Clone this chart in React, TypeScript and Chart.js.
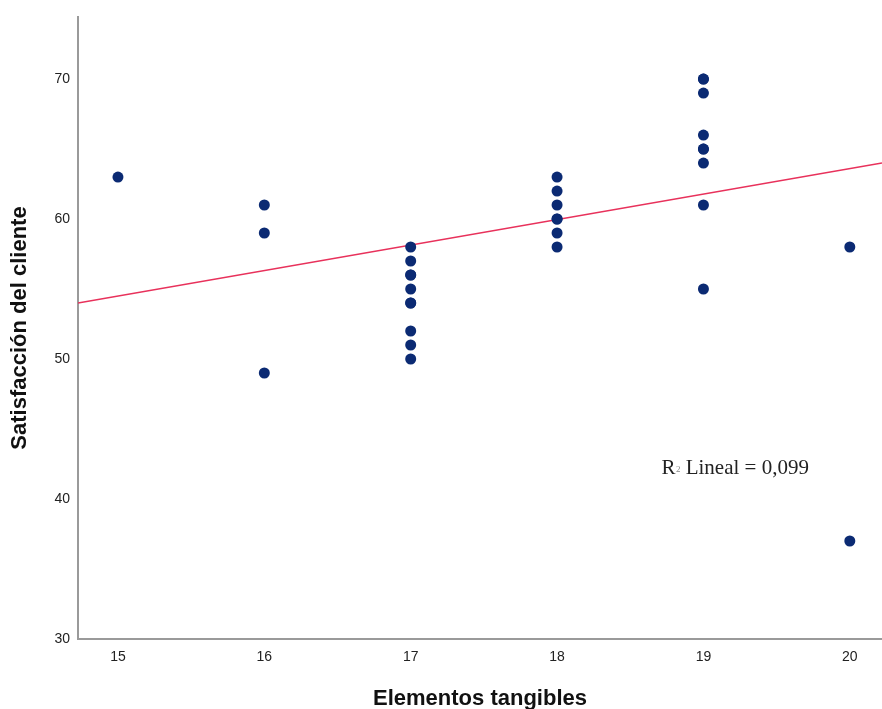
import React, { useEffect, useRef } from "react";
import { Chart, registerables } from "chart.js";

Chart.register(...registerables);

// Data
const tangibles = [15, 16, 16, 16, 17, 17, 17, 17, 17, 17, 17, 17, 17, 17, 18, 18, 18, 18, 18, 18, 18, 19, 19, 19, 19, 19, 19, 19, 19, 19, 20, 20];
const satisfaction = [63, 61, 59, 49, 58, 57, 56, 56, 55, 54, 54, 52, 51, 50, 63, 62, 61, 60, 60, 59, 58, 70, 70, 69, 66, 65, 65, 64, 61, 55, 58, 37];

const xTicks = [15, 16, 17, 18, 19, 20];
const yTicks = [30, 40, 50, 60, 70];
const xMin = 14.727;
const xMax = 20.22;
const yMin = 30;
const yMax = 74.43;

// Fit line (R² Lineal = 0,099)
const fitSlope = 1.82;
const fitIntercept = 27.2;
const r2Label = " Lineal = 0,099";
const r2Pos = { x: 18.713, y: 42.2 };

const xTitle = "Elementos tangibles";
const yTitle = "Satisfacción del cliente";

const r2Plugin = {
  id: "r2label",
  afterDatasetsDraw(chart: any) {
    const ctx = chart.ctx;
    const xs = chart.scales.x;
    const ys = chart.scales.y;
    const px = xs.getPixelForValue(r2Pos.x);
    const py = ys.getPixelForValue(r2Pos.y);
    ctx.save();
    ctx.textBaseline = "middle";
    ctx.textAlign = "left";
    ctx.fillStyle = "#222";
    ctx.font = "21px 'Liberation Serif', 'Times New Roman', serif";
    ctx.fillText("R", px, py);
    const rw = ctx.measureText("R").width;
    ctx.font = "9px 'Liberation Serif', serif";
    ctx.fillStyle = "#888";
    ctx.fillText("2", px + rw + 0.5, py + 1);
    const sw = ctx.measureText("2").width;
    ctx.font = "21px 'Liberation Serif', 'Times New Roman', serif";
    ctx.fillStyle = "#222";
    ctx.fillText(r2Label, px + rw + sw + 0.5, py);
    ctx.restore();
  },
};

export default function App() {
  const ref = useRef<HTMLCanvasElement | null>(null);

  useEffect(() => {
    document.body.style.margin = "0";
    const points = tangibles.map((x, i) => ({ x, y: satisfaction[i] }));
    const fit = [xMin, xMax].map((x) => ({ x, y: fitIntercept + fitSlope * x }));
    const chart = new Chart(ref.current as HTMLCanvasElement, {
      type: "scatter",
      data: {
        datasets: [
          {
            type: "line",
            data: fit,
            borderColor: "#e8315b",
            borderWidth: 1.5,
            pointRadius: 0,
            showLine: true,
            fill: false,
            order: 2,
          } as any,
          {
            data: points,
            backgroundColor: "#0b2a73",
            borderColor: "#0b2a73",
            borderWidth: 0,
            pointRadius: 5.5,
            order: 1,
          },
        ],
      },
      options: {
        animation: false,
        responsive: false,
        maintainAspectRatio: false,
        layout: { autoPadding: false, padding: { left: 0, top: 17, right: 0, bottom: 0 } },
        plugins: {
          legend: { display: false },
          tooltip: { enabled: false },
        },
        scales: {
          x: {
            type: "linear",
            min: xMin,
            max: xMax,
            afterBuildTicks: (s: any) => {
              s.ticks = xTicks.map((v) => ({ value: v }));
            },
            afterFit: (s: any) => {
              s.height = 70;
              s.paddingLeft = 0;
              s.paddingRight = 0;
            },
            grid: { display: true, color: "transparent", drawTicks: false },
            border: { display: true, color: "#9a9a9a", width: 2 },
            ticks: {
              padding: 10,
              color: "#222",
              font: { family: "'Liberation Sans', Arial, sans-serif", size: 14 },
            },
            title: {
              display: true,
              text: xTitle,
              color: "#111",
              font: { family: "'Liberation Sans', Arial, sans-serif", size: 22, weight: "bold" },
              padding: { top: 0, bottom: -3 },
            },
          },
          y: {
            type: "linear",
            min: yMin,
            max: yMax,
            afterBuildTicks: (s: any) => {
              s.ticks = yTicks.map((v) => ({ value: v }));
            },
            afterFit: (s: any) => {
              s.width = 78;
              s.paddingTop = 0;
              s.paddingBottom = 0;
            },
            grid: { display: true, color: "transparent", drawTicks: false },
            border: { display: true, color: "#9a9a9a", width: 2 },
            ticks: {
              padding: 8,
              color: "#222",
              font: { family: "'Liberation Sans', Arial, sans-serif", size: 14 },
            },
            title: {
              display: true,
              text: yTitle,
              color: "#111",
              font: { family: "'Liberation Sans', Arial, sans-serif", size: 22, weight: "bold" },
              padding: { top: 7, bottom: 0 },
            },
          },
        },
      },
      plugins: [r2Plugin],
    });
    return () => chart.destroy();
  }, []);

  return (
    <div style={{ width: 882, height: 709, position: "relative" }}>
      <canvas ref={ref} width={882} height={709} style={{ display: "block" }} />
    </div>
  );
}
